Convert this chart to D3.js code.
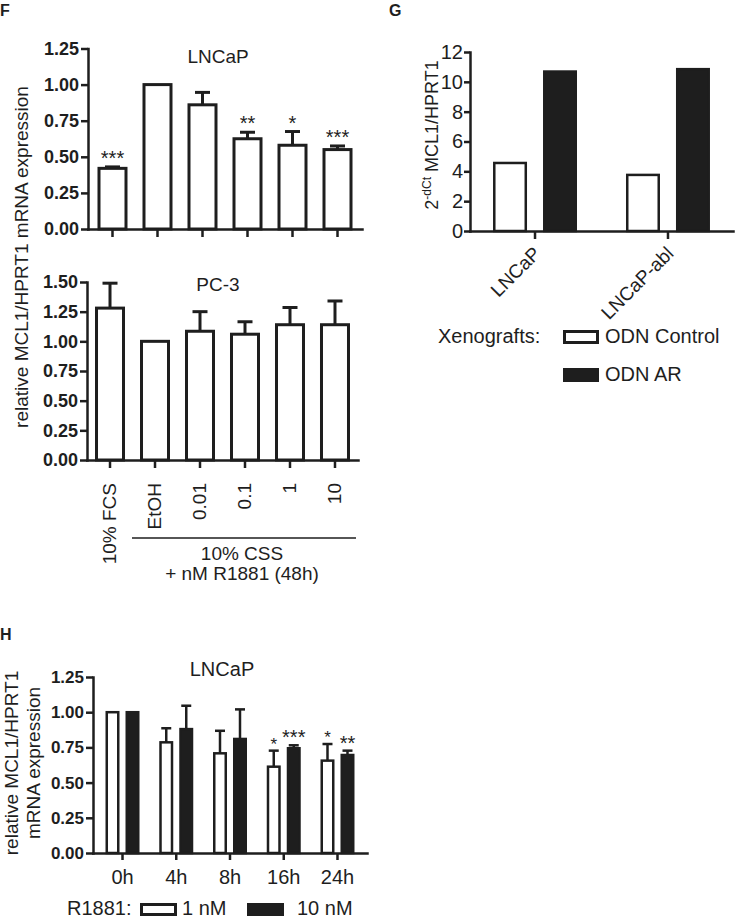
<!DOCTYPE html>
<html><head><meta charset="utf-8">
<script src="https://cdn.jsdelivr.net/npm/d3@7"></script>
<style>
body{margin:0;background:#fff;}
svg{display:block;font-family:"Liberation Sans",Arial,Helvetica,sans-serif;}
</style></head><body>
<svg id="c" width="738" height="920"></svg>
<script>
// ---------- DATA ----------
const fCategories = ["10% FCS","EtOH","0.01","0.1","1","10"];
const fLNCaPMean = [0.42,1.00,0.86,0.625,0.58,0.55];
const fLNCaPErr  = [0.01,0,0.086,0.045,0.095,0.025];
const fLNCaPSig  = ["***","","","**","*","***"];
const fLNCaPTicks = [0,0.25,0.5,0.75,1.0,1.25];
const fPC3Mean = [1.28,1.00,1.085,1.06,1.14,1.14];
const fPC3Err  = [0.21,0,0.165,0.105,0.145,0.20];
const fPC3Ticks = [0,0.25,0.5,0.75,1.0,1.25,1.5];

const gCategories = ["LNCaP","LNCaP-abl"];
const gSeries = ["ODN Control","ODN AR"];
const gControl = [4.56,3.76];
const gAR = [10.69,10.85];
const gTicks = [0,2,4,6,8,10,12];

const hCategories = ["0h","4h","8h","16h","24h"];
const hSeries = ["1 nM","10 nM"];
const h1nM = [1.00,0.786,0.708,0.613,0.656];
const h1nMErr = [0,0.10,0.16,0.114,0.118];
const h1nMSig = ["","","","*","*"];
const h10nM = [1.00,0.88,0.81,0.744,0.696];
const h10nMErr = [0,0.166,0.21,0.021,0.031];
const h10nMSig = ["","","","***","**"];
const hTicks = [0,0.25,0.5,0.75,1.0,1.25];

// ---------- DRAW ----------
const svg = d3.select("#c");
const INK = "#1e1e1e";
const FILL = "#1e1e1e";

function styleAxis(g, fontSize, bold, sw){
  g.attr("font-size",fontSize).attr("font-family","'Liberation Sans',Arial,sans-serif");
  g.select(".domain").attr("stroke",INK).attr("stroke-width",sw).attr("stroke-linecap","square");
  g.selectAll(".tick line").attr("stroke",INK).attr("stroke-width",sw);
  g.selectAll(".tick text").attr("fill",INK).style("font-size",fontSize+"px")
    .attr("font-weight",bold?"bold":"normal");
}

function singlePanel(cfg){
  const x = d3.scaleBand().domain(cfg.cats).range([cfg.left,cfg.right])
    .paddingInner(1/3).paddingOuter(cfg.pO);
  const y = d3.scaleLinear().domain([0,cfg.max]).range([cfg.bottom,cfg.top]);
  const g = svg.append("g");
  const bw = x.bandwidth();
  const data = cfg.cats.map((c,i)=>({c, m:cfg.means[i], e:cfg.errs[i], s:cfg.sigs?cfg.sigs[i]:""}));
  const eb = data.filter(d=>d.e>0);
  g.selectAll("line.err").data(eb).join("line")
    .attr("x1",d=>x(d.c)+bw/2).attr("x2",d=>x(d.c)+bw/2)
    .attr("y1",d=>y(d.m)).attr("y2",d=>y(d.m+d.e))
    .attr("stroke",INK).attr("stroke-width",3);
  g.selectAll("line.cap").data(eb).join("line")
    .attr("x1",d=>x(d.c)+bw*0.25).attr("x2",d=>x(d.c)+bw*0.75)
    .attr("y1",d=>y(d.m+d.e)).attr("y2",d=>y(d.m+d.e))
    .attr("stroke",INK).attr("stroke-width",3);
  g.selectAll("rect.bar").data(data).join("rect")
    .attr("x",d=>x(d.c)+1.5).attr("y",d=>y(d.m))
    .attr("width",bw-3).attr("height",d=>y(0)-y(d.m))
    .attr("fill","#fff").attr("stroke",INK).attr("stroke-width",3);
  g.selectAll("text.sig").data(data.filter(d=>d.s)).join("text")
    .attr("x",d=>x(d.c)+bw/2).attr("y",d=>y(d.m+d.e)-2)
    .attr("text-anchor","middle").attr("font-size",20).attr("fill",INK).text(d=>d.s);
  const ya = g.append("g").attr("transform",`translate(${cfg.left},0)`)
    .call(d3.axisLeft(y).tickValues(cfg.ticks).tickFormat(d3.format(".2f")).tickSize(7).tickSizeOuter(0).tickPadding(2));
  styleAxis(ya,18,true,2.5);
  const xa = g.append("g").attr("transform",`translate(0,${cfg.bottom})`)
    .call(d3.axisBottom(x).tickSize(8).tickSizeOuter(0).tickFormat(""));
  styleAxis(xa,18,false,2.5);
  g.append("text").attr("x",cfg.titleX).attr("y",cfg.titleY).attr("text-anchor","middle")
    .attr("font-size",19).attr("fill",INK).text(cfg.title);
  return {x,y};
}

singlePanel({cats:fCategories,means:fLNCaPMean,errs:fLNCaPErr,sigs:fLNCaPSig,ticks:fLNCaPTicks,
  left:88,right:362,top:48.5,bottom:229,max:1.25,pO:0.211,title:"LNCaP",titleX:218,titleY:63});
const fb = singlePanel({cats:fCategories,means:fPC3Mean,errs:fPC3Err,sigs:null,ticks:fPC3Ticks,
  left:87,right:358,top:282,bottom:460,max:1.5,pO:0.178,title:"PC-3",titleX:218,titleY:291});

const fbw = fb.x.bandwidth();
svg.append("g").selectAll("text").data(fCategories).join("text")
  .attr("transform",d=>`translate(${fb.x(d)+fbw/2-1},483) rotate(-90)`)
  .attr("text-anchor","end").attr("dy","0.35em").attr("font-size",19).attr("fill",INK).text(d=>d);
svg.append("line").attr("x1",fb.x("EtOH")-8).attr("x2",fb.x("10")+fbw+6)
  .attr("y1",538).attr("y2",538).attr("stroke",INK).attr("stroke-width",1.5);
svg.append("text").attr("x",242).attr("y",560).attr("text-anchor","middle").attr("font-size",19).attr("fill",INK).text("10% CSS");
svg.append("text").attr("x",242).attr("y",580).attr("text-anchor","middle").attr("font-size",19).attr("fill",INK).text("+ nM R1881 (48h)");
svg.append("text").attr("transform","translate(28,257) rotate(-90)").attr("text-anchor","middle")
  .attr("font-size",19).attr("fill",INK).text("relative MCL1/HPRT1 mRNA expression");

// Panel G
(function(){
  const x = d3.scaleBand().domain(gCategories).range([470,733]).paddingInner(0.25).paddingOuter(0.114);
  const xs = d3.scaleBand().domain(gSeries).range([0,x.bandwidth()]).paddingInner(0.32).paddingOuter(0.1575);
  const y = d3.scaleLinear().domain([0,12]).range([231,52]);
  const g = svg.append("g");
  const data = [];
  gCategories.forEach((c,i)=>{ data.push({c,s:gSeries[0],v:gControl[i]}); data.push({c,s:gSeries[1],v:gAR[i]}); });
  g.selectAll("rect").data(data).join("rect")
    .attr("x",d=>x(d.c)+xs(d.s)+1.25).attr("y",d=>y(d.v))
    .attr("width",xs.bandwidth()-2.5).attr("height",d=>y(0)-y(d.v))
    .attr("fill",d=>d.s===gSeries[0]?"#fff":FILL).attr("stroke",INK).attr("stroke-width",2.5);
  const ya = g.append("g").attr("transform","translate(470,0)")
    .call(d3.axisLeft(y).tickValues(gTicks).tickSize(6).tickSizeOuter(0).tickPadding(1));
  styleAxis(ya,20,false,2.5);
  const xa = g.append("g").attr("transform","translate(0,231)")
    .call(d3.axisBottom(x).tickSize(8).tickSizeOuter(0).tickFormat(""));
  styleAxis(xa,20,false,2.5);
  g.selectAll("text.xl").data(gCategories).join("text")
    .attr("transform",d=>`translate(${x(d)+x.bandwidth()/2+2},250) rotate(-45)`)
    .attr("text-anchor","end").attr("dy","0.35em").attr("font-size",19).attr("fill",INK).text(d=>d);
  const yl = g.append("text").attr("transform","translate(438,135) rotate(-90)").attr("text-anchor","middle")
    .attr("font-size",18).attr("fill",INK);
  yl.append("tspan").text("2");
  yl.append("tspan").attr("font-size",12).attr("dy",-7).text("-dCt");
  yl.append("tspan").attr("dy",7).text(" MCL1/HPRT1");
  g.append("text").attr("x",438).attr("y",343).attr("font-size",20).attr("fill",INK).text("Xenografts:");
  const lg = g.selectAll("g.lg").data(gSeries).join("g").attr("transform",(d,i)=>`translate(563,${330+i*38})`);
  lg.append("rect").attr("x",1.5).attr("y",1.5).attr("width",33).attr("height",11)
    .attr("fill",(d,i)=>i===0?"#fff":FILL).attr("stroke",INK).attr("stroke-width",3);
  lg.append("text").attr("x",42).attr("y",13).attr("font-size",20).attr("fill",INK).text(d=>d);
})();

// Panel H
(function(){
  const x = d3.scaleBand().domain(hCategories).range([93,367]).paddingInner(0.2).paddingOuter(0.149);
  const xs = d3.scaleBand().domain(hSeries).range([0,x.bandwidth()]).paddingInner(0.3).paddingOuter(0.225);
  const y = d3.scaleLinear().domain([0,1.25]).range([853,677]);
  const g = svg.append("g");
  const data = [];
  hCategories.forEach((c,i)=>{
    data.push({c,s:hSeries[0],v:h1nM[i],e:h1nMErr[i],sig:h1nMSig[i]});
    data.push({c,s:hSeries[1],v:h10nM[i],e:h10nMErr[i],sig:h10nMSig[i]});
  });
  const bw = xs.bandwidth();
  const cx = d=>x(d.c)+xs(d.s)+bw/2;
  const eb = data.filter(d=>d.e>0);
  g.selectAll("line.err").data(eb).join("line")
    .attr("x1",cx).attr("x2",cx).attr("y1",d=>y(d.v)).attr("y2",d=>y(d.v+d.e))
    .attr("stroke",INK).attr("stroke-width",2.5);
  g.selectAll("line.cap").data(eb).join("line")
    .attr("x1",d=>cx(d)-5).attr("x2",d=>cx(d)+5).attr("y1",d=>y(d.v+d.e)).attr("y2",d=>y(d.v+d.e))
    .attr("stroke",INK).attr("stroke-width",2.5);
  g.selectAll("rect").data(data).join("rect")
    .attr("x",d=>x(d.c)+xs(d.s)+1.25).attr("y",d=>y(d.v))
    .attr("width",bw-2.5).attr("height",d=>y(0)-y(d.v))
    .attr("fill",d=>d.s===hSeries[0]?"#fff":FILL).attr("stroke",INK).attr("stroke-width",2.5);
  g.selectAll("text.sig").data(data.filter(d=>d.sig)).join("text")
    .attr("x",cx).attr("y",d=>y(d.v+d.e)-1).attr("text-anchor","middle")
    .attr("font-size",d=>d.sig.length===1?17:20).attr("fill",INK).text(d=>d.sig);
  const ya = g.append("g").attr("transform","translate(93,0)")
    .call(d3.axisLeft(y).tickValues(hTicks).tickFormat(d3.format(".2f")).tickSize(7).tickSizeOuter(0).tickPadding(2));
  styleAxis(ya,17,true,2.5);
  const xa = g.append("g").attr("transform","translate(0,853)")
    .call(d3.axisBottom(x).tickSize(7).tickSizeOuter(0).tickPadding(10));
  styleAxis(xa,20,false,2.5);
  g.append("text").attr("x",222).attr("y",676).attr("text-anchor","middle").attr("font-size",20).attr("fill",INK).text("LNCaP");
  const yl = g.append("text").attr("transform","translate(18,763) rotate(-90)").attr("text-anchor","middle")
    .attr("font-size",19).attr("fill",INK);
  yl.append("tspan").attr("x",0).attr("dy",0).text("relative MCL1/HPRT1");
  yl.append("tspan").attr("x",0).attr("dy",22).text("mRNA expression");
  g.append("text").attr("x",67).attr("y",915).attr("font-size",20).attr("fill",INK).text("R1881:");
  const lx = [140,247];
  const lg = g.selectAll("g.lg").data(hSeries).join("g").attr("transform",(d,i)=>`translate(${lx[i]},903)`);
  lg.append("rect").attr("x",1.5).attr("y",1.5).attr("width",34).attr("height",10)
    .attr("fill",(d,i)=>i===0?"#fff":FILL).attr("stroke",INK).attr("stroke-width",3);
  lg.append("text").attr("x",(d,i)=>i===0?42:50).attr("y",12).attr("font-size",20).attr("fill",INK).text(d=>d);
})();

[["F",0,16],["G",389,16],["H",0,640]].forEach(([t,x,y])=>{
  svg.append("text").attr("x",x).attr("y",y).attr("font-size",16).attr("font-weight","bold").attr("fill",INK).text(t);
});
</script>
</body></html>
